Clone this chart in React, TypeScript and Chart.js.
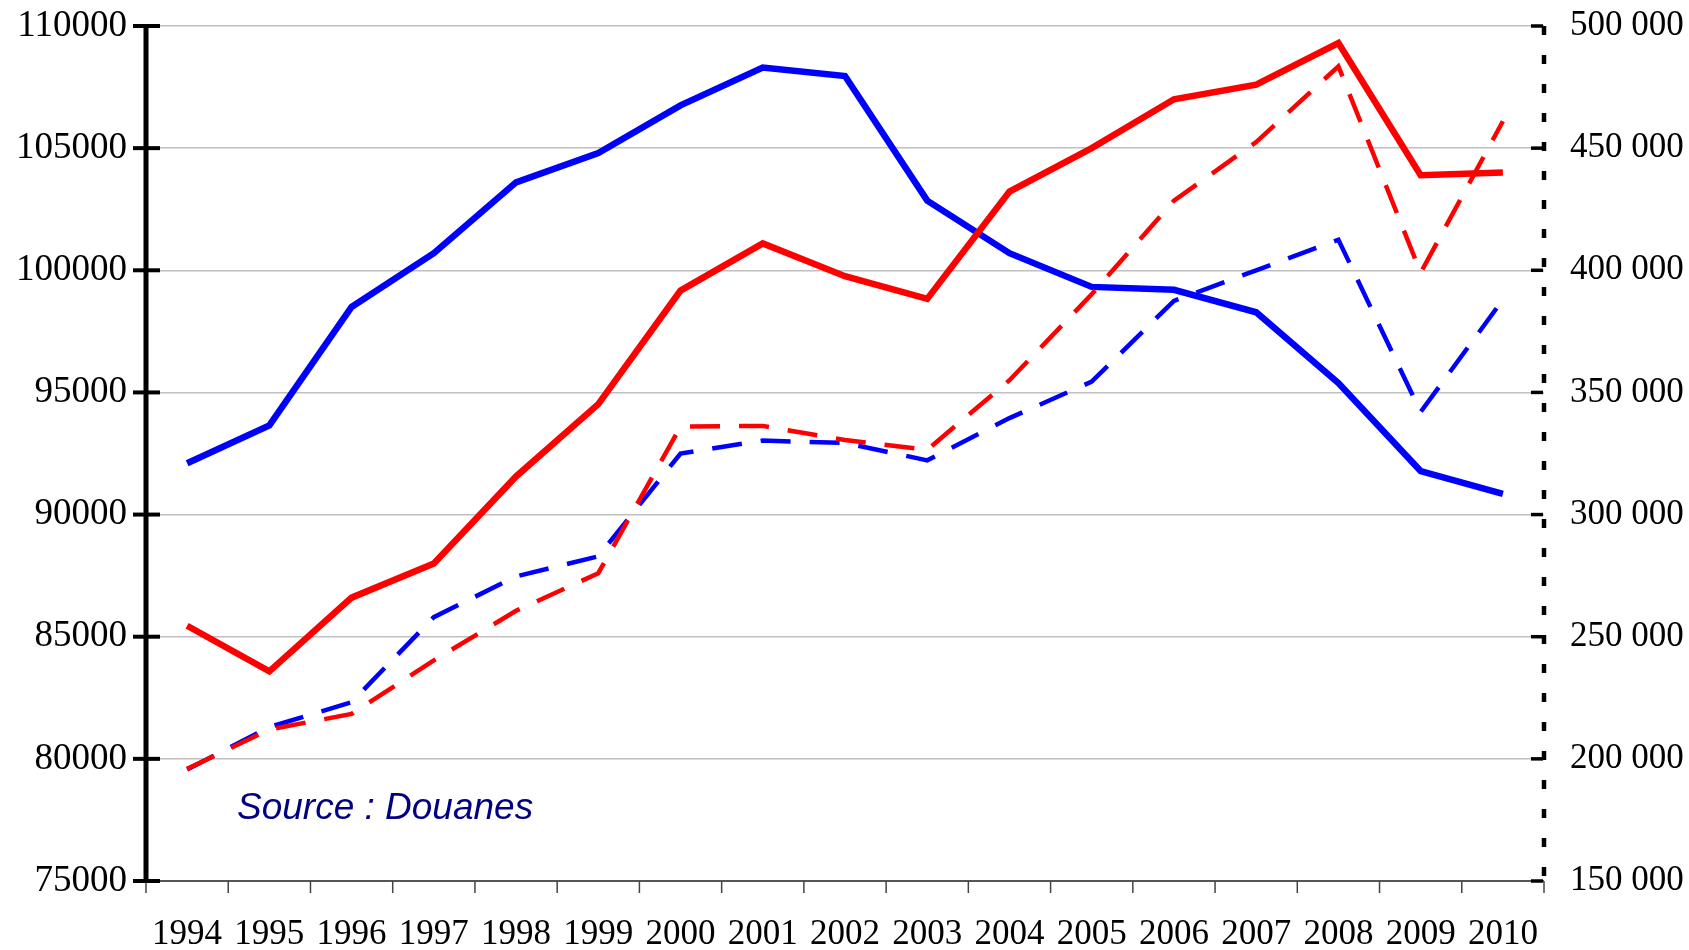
import React, { useEffect, useRef } from "react";
import { Chart, registerables } from "chart.js";

Chart.register(...registerables);

const years = ["1994", "1995", "1996", "1997", "1998", "1999", "2000", "2001", "2002", "2003", "2004", "2005", "2006", "2007", "2008", "2009", "2010"];

// left axis series (solid lines)
const blueSolid = [92100, 93650, 98500, 100700, 103600, 104800, 106750, 108300, 107950, 102850, 100700, 99320, 99200, 98280, 95380, 91780, 90850];
const redSolid = [85450, 83580, 86600, 88000, 91560, 94520, 99170, 101100, 99760, 98830, 103220, 105000, 107000, 107600, 109300, 103890, 104000];

// right axis series (dashed lines)
const blueDashed = [195600, 213000, 223200, 258000, 274700, 282900, 325000, 330300, 329300, 322200, 339500, 354400, 387500, 400000, 412500, 342000, 388000];
const redDashed = [195900, 212000, 218400, 240300, 260600, 276000, 336000, 336300, 330500, 326500, 355000, 390200, 428500, 452500, 483500, 399000, 461000];

const leftTicks = [75000, 80000, 85000, 90000, 95000, 100000, 105000, 110000];
const rightTicks = [150000, 200000, 250000, 300000, 350000, 400000, 450000, 500000];

const sourceText = "Source : Douanes";

const fmtSpace = (v: number) => String(v).replace(/\B(?=(\d{3})+(?!\d))/g, " ");

const axesPlugin = {
  id: "customAxes",
  afterDatasetsDraw(chart: any) {
    const { ctx, chartArea: a, scales } = chart;
    const x = scales.x;
    const y = scales.y;
    const y2 = scales.y2;
    ctx.save();
    // x axis line
    ctx.strokeStyle = "#555555";
    ctx.lineWidth = 2;
    ctx.beginPath();
    ctx.moveTo(a.left, a.bottom);
    ctx.lineTo(a.right, a.bottom);
    ctx.stroke();
    // x ticks at category boundaries
    ctx.lineWidth = 1.5;
    ctx.strokeStyle = "#444444";
    for (let i = 0; i <= years.length; i++) {
      const px = x.getPixelForValue(i - 0.5);
      ctx.beginPath();
      ctx.moveTo(px, a.bottom);
      ctx.lineTo(px, a.bottom + 12);
      ctx.stroke();
    }
    // left axis
    ctx.strokeStyle = "#000000";
    ctx.lineWidth = 5;
    ctx.beginPath();
    ctx.moveTo(a.left, a.top);
    ctx.lineTo(a.left, a.bottom + 2);
    ctx.stroke();
    ctx.lineWidth = 4;
    for (const v of leftTicks) {
      const py = y.getPixelForValue(v);
      ctx.beginPath();
      ctx.moveTo(a.left - 13, py);
      ctx.lineTo(a.left + 14, py);
      ctx.stroke();
    }
    // right axis (dashed)
    ctx.lineWidth = 4.5;
    ctx.setLineDash([9, 20]);
    ctx.beginPath();
    ctx.moveTo(a.right, a.top);
    ctx.lineTo(a.right, a.bottom);
    ctx.stroke();
    ctx.setLineDash([]);
    ctx.lineWidth = 3.5;
    for (const v of rightTicks) {
      const py = y2.getPixelForValue(v);
      ctx.beginPath();
      ctx.moveTo(a.right - 13, py);
      ctx.lineTo(a.right - 1, py);
      ctx.stroke();
    }
    // source note
    ctx.font = 'italic 37px "Liberation Sans", Arial, sans-serif';
    ctx.fillStyle = "#000080";
    ctx.textBaseline = "middle";
    ctx.textAlign = "left";
    ctx.fillText(sourceText, 237, 809);
    ctx.restore();
  },
};

const serif = '"Liberation Serif", "Times New Roman", serif';

export default function App() {
  const ref = useRef<HTMLCanvasElement | null>(null);
  useEffect(() => {
    if (!ref.current) return;
    const chart = new Chart(ref.current, {
      type: "line",
      data: {
        labels: years,
        datasets: [
          { data: redDashed, yAxisID: "y2", borderColor: "#ff0000", borderWidth: 4.5, borderDash: [30, 19], pointRadius: 0, fill: false, tension: 0 },
          { data: blueDashed, yAxisID: "y2", borderColor: "#0000ff", borderWidth: 4.5, borderDash: [30, 19], pointRadius: 0, fill: false, tension: 0 },
          { data: redSolid, yAxisID: "y", borderColor: "#ff0000", borderWidth: 6.5, pointRadius: 0, fill: false, tension: 0 },
          { data: blueSolid, yAxisID: "y", borderColor: "#0000ff", borderWidth: 6.5, pointRadius: 0, fill: false, tension: 0 },
        ],
      },
      options: {
        animation: false,
        responsive: false,
        events: [],
        layout: { autoPadding: false, padding: { top: 26, left: 0, right: 0, bottom: 0 } },
        plugins: { legend: { display: false }, tooltip: { enabled: false }, title: { display: false } },
        scales: {
          x: {
            type: "category",
            offset: true,
            grid: { display: false, drawTicks: false },
            border: { display: false },
            ticks: { autoSkip: false, maxRotation: 0, minRotation: 0, padding: 33, color: "#000000", font: { family: serif, size: 35 } },
            afterFit: (s: any) => { s.height = 69; s.paddingLeft = 0; s.paddingRight = 0; },
          },
          y: {
            position: "left",
            min: leftTicks[0],
            max: leftTicks[leftTicks.length - 1],
            ticks: { stepSize: leftTicks[1] - leftTicks[0], padding: 19, color: "#000000", font: { family: serif, size: 37 }, callback: (v: any) => String(v) },
            grid: { color: "#c0c0c0", lineWidth: 1.5, drawTicks: false },
            border: { display: false },
            afterFit: (s: any) => { s.width = 146; s.paddingTop = 0; s.paddingBottom = 0; },
          },
          y2: {
            position: "right",
            min: rightTicks[0],
            max: rightTicks[rightTicks.length - 1],
            ticks: { stepSize: rightTicks[1] - rightTicks[0], padding: 26, color: "#000000", font: { family: serif, size: 35 }, callback: (v: any) => fmtSpace(Number(v)) },
            grid: { drawOnChartArea: false, drawTicks: false },
            border: { display: false },
            afterFit: (s: any) => { s.width = 145; s.paddingTop = 0; s.paddingBottom = 0; },
          },
        },
      },
      plugins: [axesPlugin],
    });
    return () => chart.destroy();
  }, []);
  return (
    <div style={{ position: "fixed", left: 0, top: 0, width: 1689, height: 950, background: "#ffffff" }}>
      <canvas ref={ref} width={1689} height={950} style={{ display: "block" }} />
    </div>
  );
}
